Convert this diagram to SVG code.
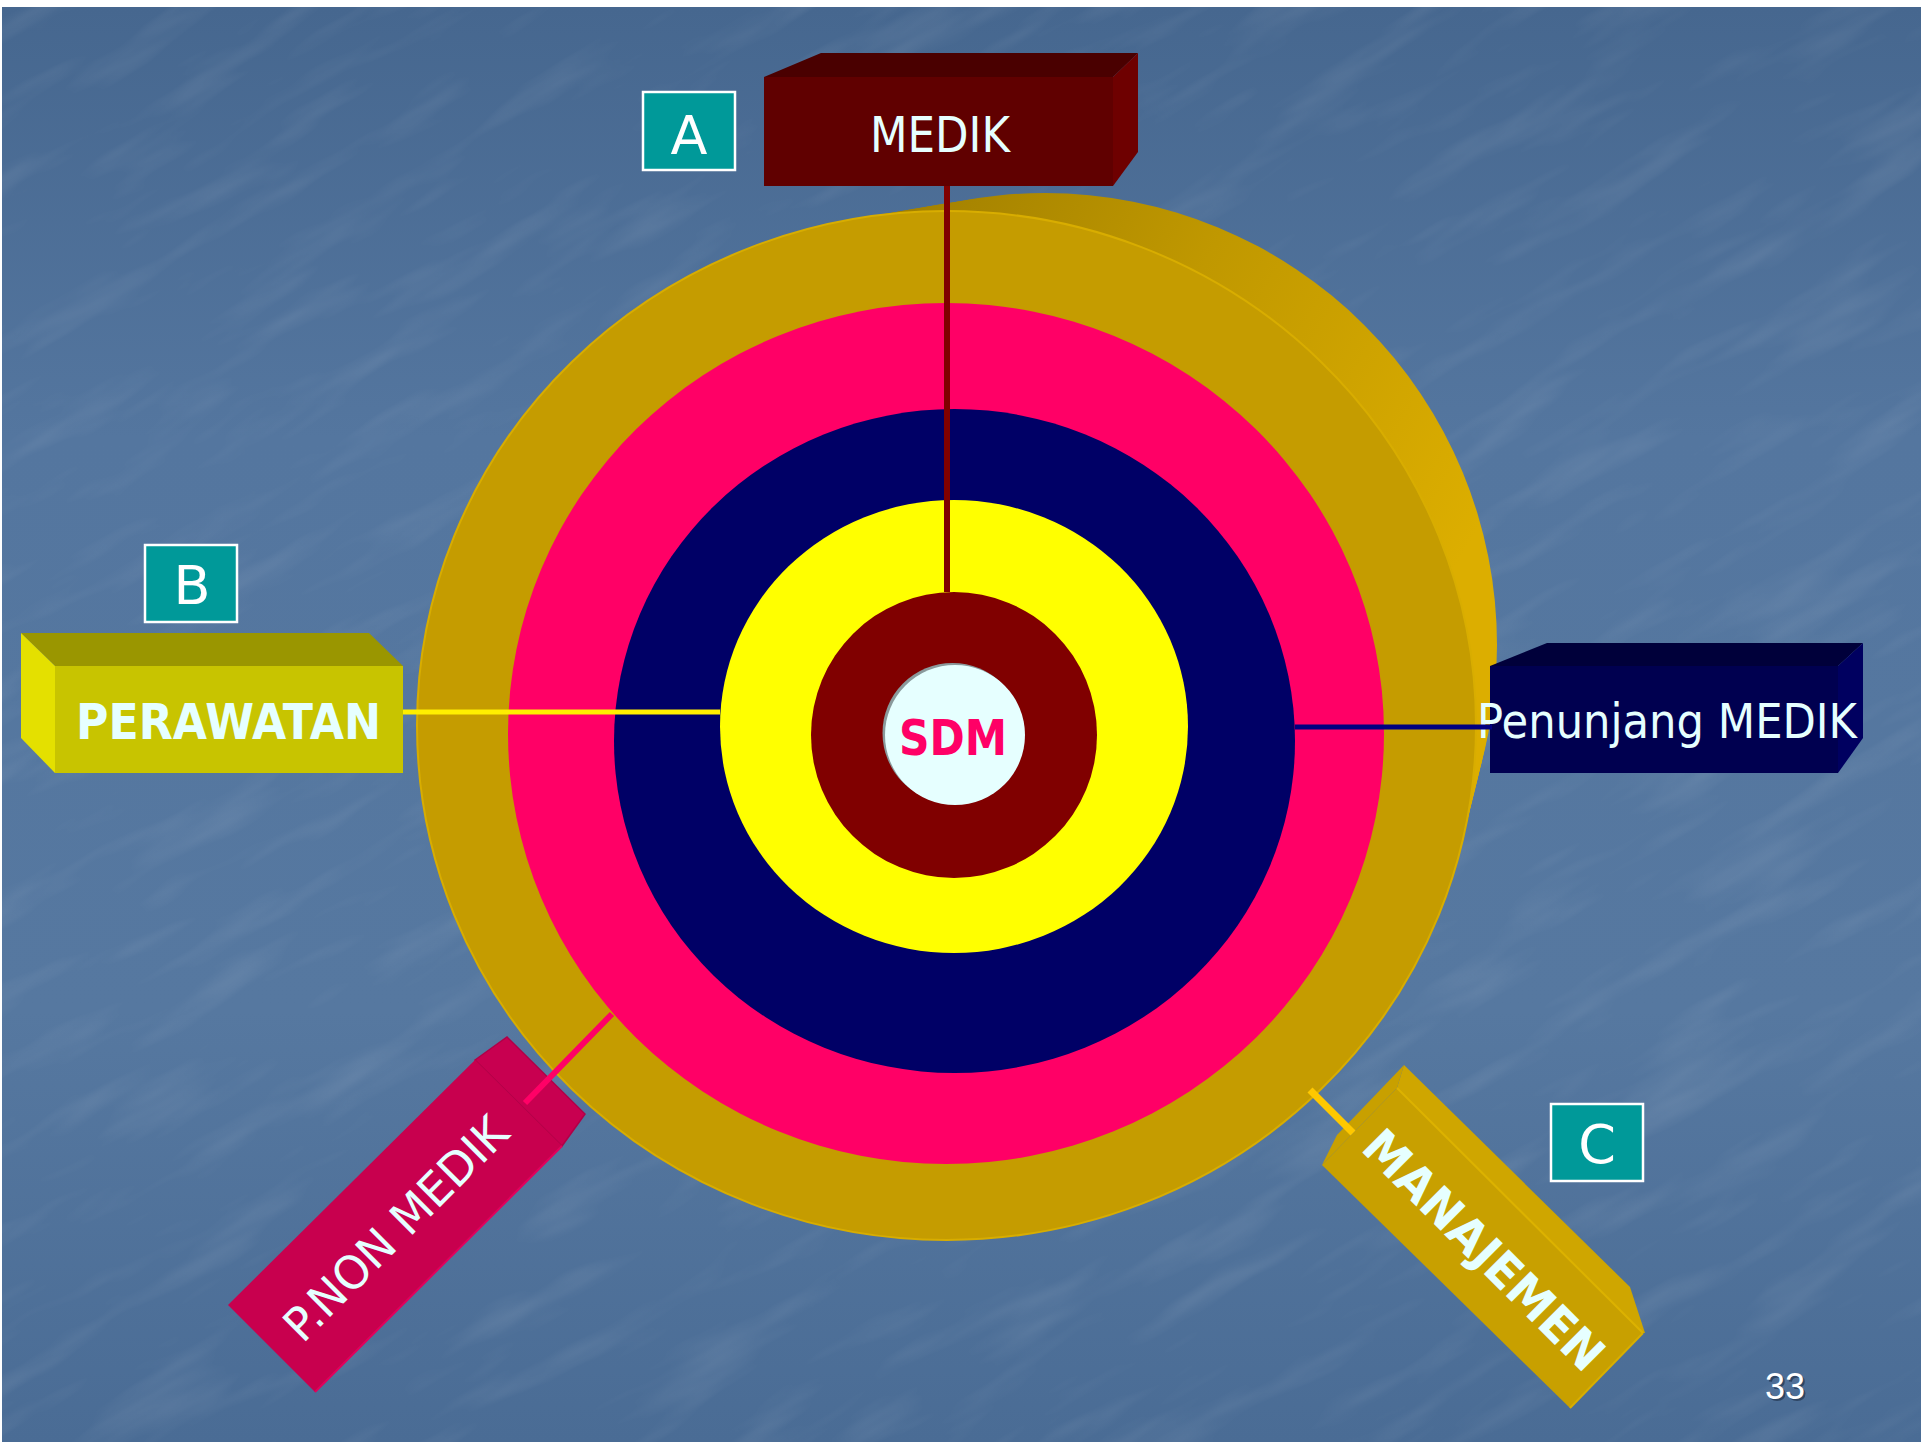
<svg xmlns="http://www.w3.org/2000/svg" width="1921" height="1442" viewBox="0 0 1921 1442">
<defs>
<style>
.lblbox{fill:#009999;stroke:#ffffff;stroke-width:2.5}
.lbltxt{fill:#ffffff;font-family:"DejaVu Sans","Verdana",sans-serif;font-size:54px;text-anchor:middle}
.btxt{fill:#e6ffff;font-family:"DejaVu Sans","Verdana",sans-serif}
.side{fill:url(#sideGrad)}
.conn{fill:none;stroke-linecap:butt}
</style>
<linearGradient id="bg" x1="0" y1="0" x2="0" y2="1">
<stop offset="0" stop-color="#46678f"/>
<stop offset="0.3" stop-color="#54769f"/>
<stop offset="0.7" stop-color="#5678a0"/>
<stop offset="1" stop-color="#4a6c95"/>
</linearGradient>
<linearGradient id="sideGrad" gradientUnits="userSpaceOnUse" x1="820" y1="190" x2="1460" y2="560">
<stop offset="0" stop-color="#9a7a00"/>
<stop offset="0.5" stop-color="#c09800"/>
<stop offset="1" stop-color="#dcae00"/>
</linearGradient>
<filter id="tex" x="0" y="0" width="100%" height="100%">
<feTurbulence type="fractalNoise" baseFrequency="0.006 0.03" numOctaves="3" seed="7"/>
<feColorMatrix type="matrix" values="0 0 0 0 1  0 0 0 0 1  0 0 0 0 1  2 0 0 0 -1"/>
</filter>
<clipPath id="bgclip"><rect x="2" y="7" width="1919" height="1435"/></clipPath>
</defs>

<g id="background">
<rect x="0" y="0" width="1921" height="1442" fill="#ffffff"/>
<rect x="2" y="7" width="1919" height="1435" fill="url(#bg)"/>
<g clip-path="url(#bgclip)">
<g transform="rotate(-30 960 720)">
<rect x="-600" y="-600" width="3100" height="2700" fill="#ffffff" filter="url(#tex)" opacity="0.10"/>
</g>
</g>
</g>

<g id="node-sdm">
<g id="disk-side">
<ellipse class="side" cx="1045" cy="645" rx="452" ry="452"/>
<ellipse class="side" cx="1032.7" cy="655.1" rx="461.7" ry="459.8"/>
<ellipse class="side" cx="1020.4" cy="665.1" rx="471.4" ry="467.6"/>
<ellipse class="side" cx="1008.1" cy="675.2" rx="481.1" ry="475.4"/>
<ellipse class="side" cx="995.75" cy="685.25" rx="490.75" ry="483.25"/>
<ellipse class="side" cx="983.4" cy="695.3" rx="500.4" ry="491.1"/>
<ellipse class="side" cx="971.1" cy="705.4" rx="510.1" ry="498.9"/>
<ellipse class="side" cx="958.8" cy="715.4" rx="519.8" ry="506.7"/>
</g>
<ellipse cx="946.5" cy="725.5" rx="529.5" ry="514.5" fill="#c59c00" stroke="#d8ad00" stroke-width="2"/>
<ellipse cx="946" cy="733.5" rx="438" ry="430.5" fill="#ff0066"/>
<ellipse cx="954.5" cy="741" rx="340.5" ry="332" fill="#000066"/>
<ellipse cx="954" cy="726.5" rx="234" ry="226.5" fill="#ffff00"/>
<circle cx="954" cy="735" r="143" fill="#800000"/>
<circle cx="952.5" cy="733" r="70" fill="#8a9a9c"/>
<circle cx="955" cy="735" r="70" fill="#e6ffff"/>
<text x="953" y="755" class="btxt" style="fill:#ff0066;font-weight:bold;font-size:50px" text-anchor="middle" textLength="108" lengthAdjust="spacingAndGlyphs">SDM</text>
</g>

<g id="node-medik">
<polygon points="764,77 821,53 1138,53 1113,77" fill="#4a0000"/>
<polygon points="1113,77 1138,53 1138,152 1113,186" fill="#6e0000"/>
<rect x="764" y="77" width="349" height="109" fill="#600000"/>
<text x="940" y="152" class="btxt" style="font-size:50px" text-anchor="middle" textLength="140" lengthAdjust="spacingAndGlyphs">MEDIK</text>
</g>

<g id="node-perawatan">
<polygon points="21,633 369,633 403,666 55,666" fill="#9a9600"/>
<polygon points="21,633 55,666 55,773 21,738" fill="#e4e000"/>
<rect x="55" y="666" width="348" height="107" fill="#c8c400"/>
<text x="76" y="739" class="btxt" style="font-size:50px;font-weight:bold" textLength="305" lengthAdjust="spacingAndGlyphs">PERAWATAN</text>
</g>

<g id="node-penunjang">
<polygon points="1490,666 1547,643 1863,643 1838,666" fill="#00003a"/>
<polygon points="1838,666 1863,643 1863,738 1838,773" fill="#000060"/>
<rect x="1490" y="666" width="348" height="107" fill="#000050"/>
<text x="1477" y="738" class="btxt" style="font-size:48px" textLength="380" lengthAdjust="spacingAndGlyphs">Penunjang MEDIK</text>
</g>

<g id="node-pnonmedik">
<polygon points="475,1060 507,1037 585,1114 562,1146" fill="#c80050" stroke="#b00048" stroke-width="1.5"/>
<polygon points="475,1060 562,1146 315,1392 228,1305" fill="#c8004e"/>
<line x1="562" y1="1146" x2="315" y2="1392" stroke="#e2005c" stroke-width="2"/>
<g transform="translate(395,1228) rotate(-45)">
<text x="0" y="17" class="btxt" style="font-size:46px" text-anchor="middle" textLength="295" lengthAdjust="spacingAndGlyphs">P.NON MEDIK</text>
</g>
</g>

<g id="node-manajemen">
<polygon points="1322,1165 1337,1135 1404,1065 1397,1088" fill="#c8a000"/>
<polygon points="1397,1088 1404,1065 1630,1287 1645,1333 1643,1333" fill="#cfa600"/>
<polygon points="1322,1165 1397,1088 1643,1333 1570,1408" fill="#c8a000"/>
<line x1="1397" y1="1088" x2="1643" y2="1333" stroke="#dcb200" stroke-width="2"/>
<line x1="1643" y1="1333" x2="1570" y2="1408" stroke="#d8ae00" stroke-width="2"/>
<g transform="translate(1484,1250) rotate(45)">
<text x="0" y="17" class="btxt" style="font-size:48px;font-weight:bold" text-anchor="middle" textLength="318" lengthAdjust="spacingAndGlyphs">MANAJEMEN</text>
</g>
</g>

<g id="connectors">
<line class="conn" x1="947" y1="186" x2="947" y2="592" stroke="#800000" stroke-width="6"/>
<line class="conn" x1="403" y1="712" x2="720" y2="712" stroke="#ffee00" stroke-width="5"/>
<line class="conn" x1="1295" y1="727" x2="1492" y2="727" stroke="#000080" stroke-width="5"/>
<line class="conn" x1="612" y1="1014" x2="525" y2="1103" stroke="#ff0066" stroke-width="6"/>
<line class="conn" x1="1310" y1="1090" x2="1353" y2="1133" stroke="#ffc800" stroke-width="7"/>
</g>

<g id="label-a">
<rect class="lblbox" x="643" y="92" width="92" height="78"/>
<text class="lbltxt" x="689" y="154">A</text>
</g>
<g id="label-b">
<rect class="lblbox" x="145" y="545" width="92" height="77"/>
<text class="lbltxt" x="192" y="604">B</text>
</g>
<g id="label-c">
<rect class="lblbox" x="1551" y="1104" width="92" height="77"/>
<text class="lbltxt" x="1597" y="1163">C</text>
</g>

<g id="page-number">
<text x="1767" y="1401" style="fill:#1a2a40;font-family:'Liberation Sans',Arial,sans-serif;font-size:36px" opacity="0.6">33</text>
<text x="1765" y="1399" style="fill:#ffffff;font-family:'Liberation Sans',Arial,sans-serif;font-size:36px">33</text>
</g>
</svg>
